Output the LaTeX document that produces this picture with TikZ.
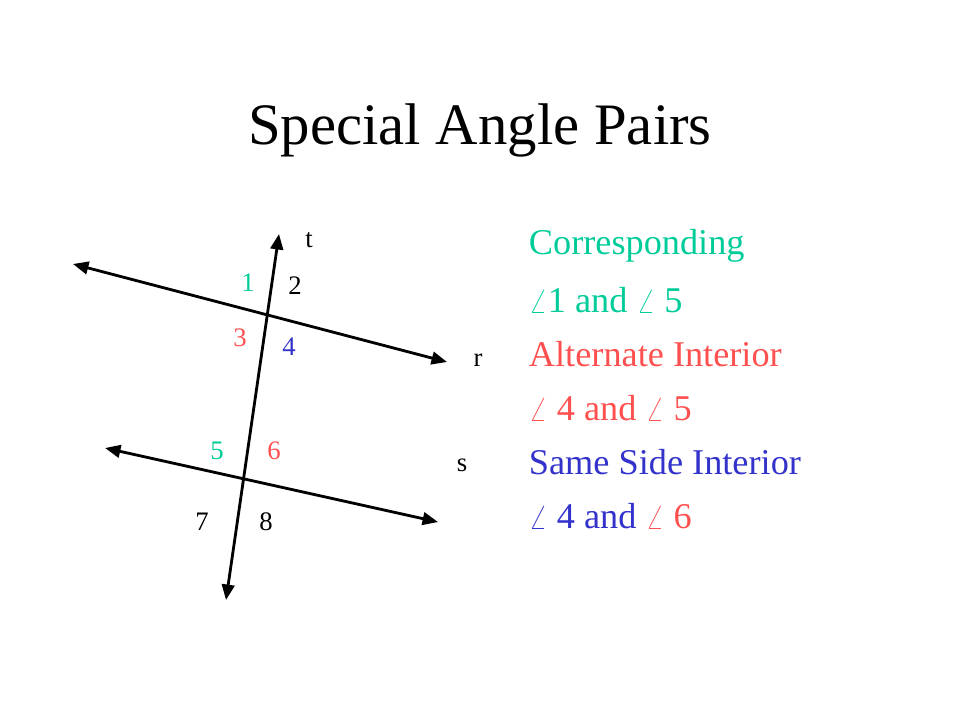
\documentclass[tikz,border=0pt]{standalone}
\usepackage{fontspec}
\setmainfont{Liberation Serif}
\usetikzlibrary{arrows.meta}
\definecolor{cteal}{RGB}{0,204,153}
\definecolor{cred}{RGB}{255,80,80}
\definecolor{cblue}{RGB}{51,51,204}

\begin{document}
\begin{tikzpicture}[line cap=round, line join=round,
    ray/.style={line width=2pt, {Triangle[length=11pt,width=9pt]}-{Triangle[length=11pt,width=9pt]}},
    num/.style={font=\fontsize{19}{19}\selectfont},
    txt/.style={anchor=west, font=\fontsize{25.8}{26}\selectfont}]
  \useasboundingbox (0,0) rectangle (24,18);

  % Title
  \node[font=\fontsize{41.8}{42}\selectfont] (title) at (12,14.75) {Special Angle Pairs};

  % Line ends
  \coordinate (tA) at (5.65,3);
  \coordinate (tB) at (6.975,12.15);
  \coordinate (rA) at (1.825,11.4);
  \coordinate (rB) at (11.175,8.95);
  \coordinate (sA) at (2.625,6.8);
  \coordinate (sB) at (10.95,4.95);

  % Lines
  \draw[ray] (tA) -- (tB);
  \draw[ray] (rA) -- (rB);
  \draw[ray] (sA) -- (sB);

  % Line names
  \node[num] (lt) at (7.725,12.0) {t};
  \node[num] (lr) at (11.95,9.0) {r};
  \node[num] (ls) at (11.55,6.375) {s};

  % Angle numbers
  \node[num, cteal] (n1) at (6.2,10.925) {1};
  \node[num] (n2) at (7.375,10.85) {2};
  \node[num, cred] (n3) at (6.0,9.55) {3};
  \node[num, cblue] (n4) at (7.225,9.325) {4};
  \node[num, cteal] (n5) at (5.425,6.725) {5};
  \node[num, cred] (n6) at (6.85,6.725) {6};
  \node[num] (n7) at (5.05,4.95) {7};
  \node[num] (n8) at (6.65,4.95) {8};

  % Pairs
  \node[txt, cteal] (corr) at (13.1,11.85) {Corresponding};
  \node[txt, cteal] (corrA) at (13.1,10.5) {$\angle$1 and $\angle$ 5};
  \node[txt, cred] (alt) at (13.1,9.15) {Alternate Interior};
  \node[txt, cred] (altA) at (13.1,7.8) {$\angle$ 4 and $\angle$ 5};
  \node[txt, cblue] (same) at (13.1,6.45) {Same Side Interior};
  \node[txt, cblue] (sameA) at (13.1,5.1) {$\angle$ 4 and {\color{cred}$\angle$ 6}};
\end{tikzpicture}
\end{document}
